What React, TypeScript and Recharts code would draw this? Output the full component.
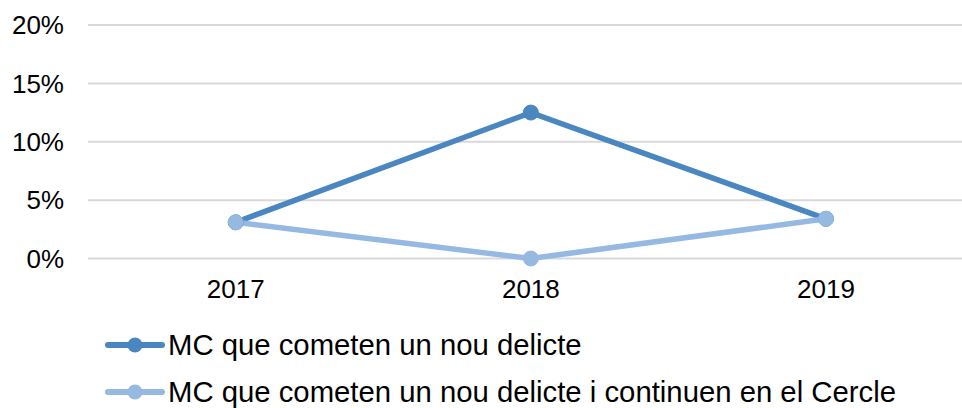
import React from "react";
import { LineChart, Line, XAxis, YAxis, CartesianGrid, Legend } from "recharts";

const years = ["2017", "2018", "2019"];
const nouDelicte = [0.031, 0.125, 0.034];
const nouDelicteCercle = [0.031, 0, 0.034];
const yTicks = [0, 0.05, 0.1, 0.15, 0.2];

const SERIES = [
  { key: "nou", name: "MC que cometen un nou delicte", color: "#4A86C0" },
  {
    key: "cercle",
    name: "MC que cometen un nou delicte i continuen en el Cercle",
    color: "#95B9E1",
  },
];

const data = years.map((year, i) => ({
  year,
  nou: nouDelicte[i],
  cercle: nouDelicteCercle[i],
}));

const FONT = "'Liberation Sans', Arial, sans-serif";

// ─── Legend ──────────────────────────────────────────────────────────────────

const LegendRows = () => (
  <div style={{ fontFamily: FONT, fontSize: 29.3, color: "#000" }}>
    {SERIES.map((s) => (
      <div
        key={s.key}
        style={{ display: "flex", alignItems: "center", height: 47, whiteSpace: "nowrap" }}
      >
        <svg width={60} height={20} style={{ marginRight: 3 }}>
          <line x1={3} y1={10} x2={57} y2={10} stroke={s.color} strokeWidth={6} strokeLinecap="round" />
          <circle cx={30} cy={10} r={7.5} fill={s.color} />
        </svg>
        <span>{s.name}</span>
      </div>
    ))}
  </div>
);

// ─── Chart ───────────────────────────────────────────────────────────────────

export default function App() {
  return (
    <div
      style={{
        position: "absolute",
        top: 0,
        left: 0,
        width: 962,
        height: 408,
        overflow: "hidden",
        background: "#fff",
      }}
    >
      <LineChart
        width={962}
        height={408}
        data={data}
        margin={{ top: 25, right: 0, bottom: 119.5, left: 0 }}
      >
        <CartesianGrid horizontal vertical={false} stroke="#D9D9D9" strokeWidth={2} />
        <XAxis
          dataKey="year"
          axisLine={false}
          tickLine={false}
          height={30}
          tickSize={0}
          tickMargin={21}
          padding={{ left: 147.7, right: 136 }}
          tick={{ fontSize: 26, fontFamily: FONT, fill: "#000" }}
        />
        <YAxis
          width={88}
          domain={[0, 0.2]}
          ticks={yTicks}
          axisLine={false}
          tickLine={false}
          tickSize={0}
          tickMargin={24}
          tickFormatter={(v: number) => `${Math.round(v * 100)}%`}
          tick={{ fontSize: 26, fontFamily: FONT, fill: "#000" }}
        />
        <Legend
          layout="horizontal"
          align="center"
          verticalAlign="middle"
          content={() => <LegendRows />}
          wrapperStyle={{ top: 321.5, left: 105, width: "auto" }}
        />
        {SERIES.map((s) => (
          <Line
            key={s.key}
            type="linear"
            dataKey={s.key}
            name={s.name}
            stroke={s.color}
            strokeWidth={5.5}
            dot={{ r: 7.5, fill: s.color, stroke: s.color, strokeWidth: 1 }}
            activeDot={false}
            isAnimationActive={false}
          />
        ))}
      </LineChart>
    </div>
  );
}
